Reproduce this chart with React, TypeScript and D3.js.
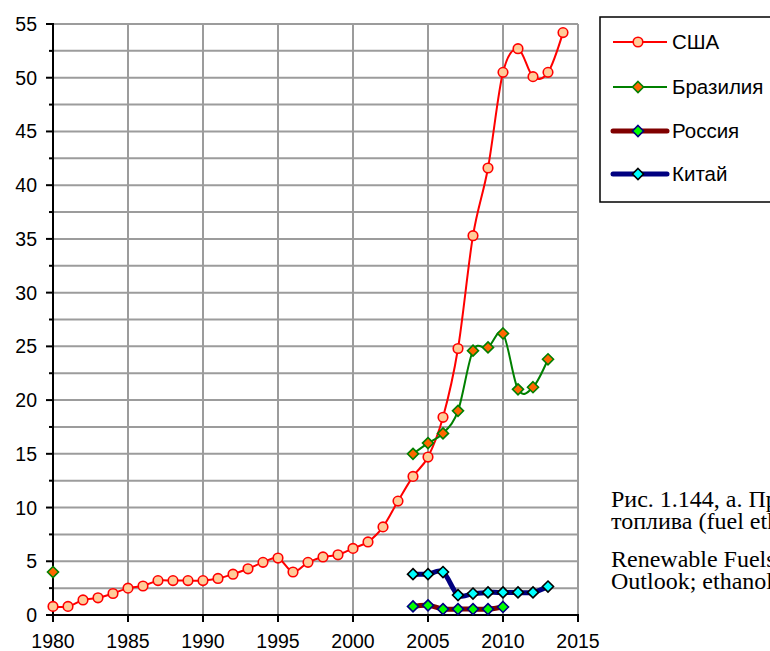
import React from 'react';
import * as d3 from 'd3';

// ethanol production, values
const usaStart = 1980;
const usaValues = [
  0.8, 0.8, 1.4, 1.6, 2.0, 2.5, 2.7, 3.2, 3.2, 3.2,
  3.2, 3.4, 3.8, 4.3, 4.9, 5.3, 4.0, 4.9, 5.4, 5.6,
  6.2, 6.8, 8.2, 10.6, 12.9, 14.7, 18.4, 24.8, 35.3, 41.6,
  50.5, 52.7, 50.1, 50.5, 54.2,
];
const brazilYears = [1980, 2004, 2005, 2006, 2007, 2008, 2009, 2010, 2011, 2012, 2013];
const brazilValues = [4.0, 15.0, 16.0, 16.9, 19.0, 24.6, 24.9, 26.2, 21.0, 21.2, 23.8];
const russiaYears = [2004, 2005, 2006, 2007, 2008, 2009, 2010];
const russiaValues = [0.8, 0.9, 0.55, 0.55, 0.55, 0.55, 0.75];
const chinaYears = [2004, 2005, 2006, 2007, 2008, 2009, 2010, 2011, 2012, 2013];
const chinaValues = [3.8, 3.8, 4.0, 1.85, 2.0, 2.1, 2.1, 2.1, 2.1, 2.65];

const xTicks = [1980, 1985, 1990, 1995, 2000, 2005, 2010, 2015];
const yTicks = [0, 5, 10, 15, 20, 25, 30, 35, 40, 45, 50, 55];
const yGrid = d3.range(0, 55.1, 2.5);

const captionLines = [
  'Рис. 1.144, а. Производство этанолового',
  'топлива (fuel ethanol), млрд литров.',
  'Renewable Fuels Association; OECD-FAO Agricultural',
  'Outlook; ethanol production',
];

type Pt = { year: number; v: number | null };

const withGaps = (years: number[], values: number[]): Pt[] => {
  const out: Pt[] = [];
  years.forEach((y, i) => {
    if (i > 0 && y - years[i - 1] > 1) out.push({ year: y - 1, v: null });
    out.push({ year: y, v: values[i] });
  });
  return out;
};

const usa = withGaps(usaValues.map((_, i) => usaStart + i), usaValues);
const brazil = withGaps(brazilYears, brazilValues);
const russia = withGaps(russiaYears, russiaValues);
const china = withGaps(chinaYears, chinaValues);

const W = 770;
const H = 651;
const x = d3.scaleLinear().domain([1980, 2015]).range([53, 578]);
const y = d3.scaleLinear().domain([0, 55]).range([615, 24]);

const line = d3.line<Pt>()
  .defined(d => d.v != null)
  .x(d => x(d.year))
  .y(d => y(d.v as number))
  .curve(d3.curveCardinal.tension(0));

const sans = 'Arial, "Liberation Sans", sans-serif';
const serif = '"Times New Roman", "Liberation Serif", serif';

const diamond = (cx: number, cy: number, r: number) =>
  `M${cx},${cy - r}L${cx + r},${cy}L${cx},${cy + r}L${cx - r},${cy}Z`;

const series = [
  { name: 'США', data: usa, stroke: '#ff0000', width: 2, marker: 'circle', fill: '#ffcc99', mStroke: '#ff0000' },
  { name: 'Бразилия', data: brazil, stroke: '#008000', width: 2, marker: 'diamond', fill: '#ff6600', mStroke: '#008000' },
  { name: 'Россия', data: russia, stroke: '#800000', width: 5, marker: 'diamond', fill: '#00ff00', mStroke: '#000080' },
  { name: 'Китай', data: china, stroke: '#000080', width: 5, marker: 'diamond', fill: '#00ffff', mStroke: '#000000' },
];

const Marker = ({ kind, cx, cy, fill, stroke }: any) =>
  kind === 'circle'
    ? <circle cx={cx} cy={cy} r={4.8} fill={fill} stroke={stroke} strokeWidth={1.6} />
    : <path d={diamond(cx, cy, 5.5)} fill={fill} stroke={stroke} strokeWidth={1.6} />;

export default function App() {
  const legendY = [42, 87, 131, 174];
  return (
    <div style={{ position: 'fixed', left: 0, top: 0, width: W, height: H, overflow: 'hidden', background: '#fff' }}>
      <svg width={W} height={H} style={{ display: 'block' }}>
        <rect width={W} height={H} fill="#fff" />

        {/* grid */}
        {yGrid.map(v => (
          <line key={'gy' + v} x1={x(1980)} x2={x(2015)} y1={y(v)} y2={y(v)} stroke="#9c9c9c" strokeWidth={2} />
        ))}
        {xTicks.slice(1).map(t => (
          <line key={'gx' + t} x1={x(t)} x2={x(t)} y1={y(55)} y2={y(0)} stroke="#9c9c9c" strokeWidth={2} />
        ))}

        {/* axes */}
        <line x1={x(1980)} x2={x(1980)} y1={y(55) - 1} y2={y(0) + 1} stroke="#000" strokeWidth={2} />
        <line x1={x(1980) - 1} x2={x(2015) + 1} y1={y(0)} y2={y(0)} stroke="#000" strokeWidth={2} />
        {yGrid.map(v => (
          <line key={'ty' + v} x1={x(1980) - (v % 5 === 0 ? 7 : 4)} x2={x(1980)} y1={y(v)} y2={y(v)} stroke="#000" strokeWidth={2} />
        ))}
        {yTicks.map(v => (
          <text key={'ly' + v} x={37} y={y(v)} dy="0.36em" textAnchor="end" fontFamily={sans} fontSize={19.5} fill="#000">{v}</text>
        ))}
        {xTicks.map(t => (
          <line key={'tx' + t} x1={x(t)} x2={x(t)} y1={y(0)} y2={y(0) + 7} stroke="#000" strokeWidth={2} />
        ))}
        {xTicks.map(t => (
          <text key={'lx' + t} x={x(t)} y={648} textAnchor="middle" fontFamily={sans} fontSize={19.5} fill="#000">{t}</text>
        ))}

        {/* series */}
        {series.map(s => (
          <g key={s.name}>
            <path d={line(s.data) || ''} fill="none" stroke={s.stroke} strokeWidth={s.width} strokeLinejoin="round" strokeLinecap="round" />
            {s.data.filter(d => d.v != null).map(d => (
              <Marker key={d.year} kind={s.marker} cx={x(d.year)} cy={y(d.v as number)} fill={s.fill} stroke={s.mStroke} />
            ))}
          </g>
        ))}

        {/* legend */}
        <rect x={600} y={17} width={200} height={185} fill="#fff" stroke="#000" strokeWidth={1.5} />
        {series.map((s, i) => (
          <g key={'lg' + s.name}>
            <line x1={613} x2={667} y1={legendY[i]} y2={legendY[i]} stroke={s.stroke} strokeWidth={s.width === 2 ? 2 : 5} strokeLinecap={s.width === 2 ? 'butt' : 'round'} />
            <Marker kind={s.marker} cx={638} cy={legendY[i]} fill={s.fill} stroke={s.mStroke} />
            <text x={672} y={legendY[i]} dy="0.36em" fontFamily={sans} fontSize={20.5} fill="#000">{s.name}</text>
          </g>
        ))}

        {/* caption, cut by the right edge as in the source */}
        {captionLines.map((t, i) => (
          <text key={'c' + i} x={611} y={[507, 529, 567, 589][i]} fontFamily={serif} fontSize={24} fill="#000">{t}</text>
        ))}
      </svg>
    </div>
  );
}
